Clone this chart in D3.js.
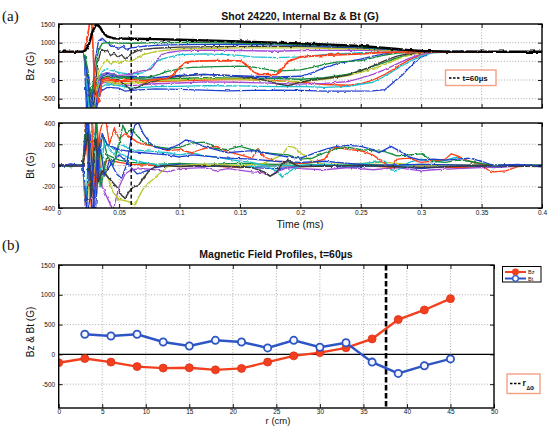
<!DOCTYPE html>
<html>
<head>
<meta charset="utf-8">
<script src="https://cdn.jsdelivr.net/npm/d3@7"></script>
<style>
  body { margin: 0; background: #fff; }
  svg text { font-family: "Liberation Sans", Arial, sans-serif; fill: #111; }
</style>
</head>
<body>
<svg id="chart" width="548" height="426"></svg>
<script>
// ---- panel (a): internal Bz traces, [time ms, gauss]
const bzEnvelope = [[0,760],[0.02,760],[0.022,790],[0.025,950],[0.028,1300],[0.031,1490],[0.034,1420],[0.037,1260],[0.04,1170],[0.045,1120],[0.05,1110],[0.06,1105],[0.08,1095],[0.1,1080],[0.15,1030],[0.2,980],[0.25,910],[0.27,860],[0.28,830],[0.29,800],[0.3,775],[0.32,760],[0.4,755]];
const bzGreenTop = [[0,750],[0.021,750],[0.024,300],[0.027,-400],[0.03,200],[0.033,800],[0.036,980],[0.04,1000],[0.05,990],[0.06,985],[0.08,1000],[0.1,1010],[0.12,1000],[0.15,990],[0.2,950],[0.24,900],[0.27,840],[0.3,780],[0.32,760],[0.4,750]];
const bzBlueTop = [[0,755],[0.021,755],[0.024,0],[0.027,-900],[0.03,500],[0.033,1050],[0.036,1120],[0.04,1000],[0.045,900],[0.05,850],[0.053,900],[0.056,820],[0.06,860],[0.07,900],[0.08,930],[0.1,950],[0.15,960],[0.2,930],[0.25,870],[0.28,810],[0.3,770],[0.4,750]];
const bzGrayTop = [[0,750],[0.021,750],[0.025,-200],[0.029,-700],[0.032,400],[0.035,800],[0.04,780],[0.043,650],[0.046,720],[0.049,600],[0.052,680],[0.055,560],[0.058,650],[0.06,700],[0.065,780],[0.07,820],[0.08,850],[0.1,880],[0.15,900],[0.2,900],[0.25,860],[0.28,810],[0.3,770],[0.4,750]];
const bzYellowTop = [[0,750],[0.021,750],[0.025,-300],[0.029,-800],[0.033,200],[0.037,450],[0.04,550],[0.043,420],[0.046,500],[0.05,450],[0.055,520],[0.06,500],[0.065,600],[0.07,680],[0.08,760],[0.09,800],[0.1,830],[0.15,860],[0.2,860],[0.25,830],[0.28,790],[0.3,760],[0.4,750]];
const bzPurpleTop = [[0,750],[0.021,750],[0.024,-100],[0.028,-900],[0.032,-100],[0.036,150],[0.04,200],[0.05,120],[0.06,150],[0.065,220],[0.07,250],[0.075,280],[0.078,350],[0.082,550],[0.085,680],[0.09,730],[0.1,780],[0.12,800],[0.15,790],[0.18,770],[0.2,790],[0.25,800],[0.28,780],[0.3,760],[0.4,750]];
const bzCyanTop = [[0,750],[0.021,750],[0.024,-400],[0.027,-1200],[0.031,-300],[0.035,200],[0.04,300],[0.05,200],[0.06,150],[0.07,200],[0.075,300],[0.08,480],[0.085,560],[0.09,600],[0.1,680],[0.12,700],[0.14,680],[0.15,660],[0.16,620],[0.18,600],[0.2,620],[0.22,680],[0.25,730],[0.28,750],[0.4,750]];
const bzRedMid = [[0,750],[0.021,760],[0.024,1200],[0.027,1800],[0.03,-200],[0.033,-600],[0.036,0],[0.04,50],[0.05,-30],[0.06,20],[0.07,-20],[0.08,10],[0.09,40],[0.095,150],[0.1,330],[0.105,470],[0.11,500],[0.13,520],[0.15,510],[0.155,420],[0.16,250],[0.165,150],[0.18,140],[0.185,300],[0.19,500],[0.2,620],[0.22,660],[0.25,700],[0.27,740],[0.29,750],[0.4,750]];
const bzGreenMid = [[0,750],[0.021,750],[0.025,-500],[0.029,-300],[0.033,100],[0.04,200],[0.05,100],[0.06,60],[0.07,50],[0.08,120],[0.09,230],[0.1,300],[0.11,340],[0.13,360],[0.15,370],[0.16,350],[0.17,300],[0.18,240],[0.2,270],[0.21,340],[0.22,420],[0.23,480],[0.25,520],[0.26,590],[0.27,670],[0.28,720],[0.3,750],[0.4,750]];
const bzBlueMid = [[0,750],[0.021,750],[0.024,-800],[0.028,-1500],[0.032,-400],[0.036,100],[0.04,150],[0.05,80],[0.06,100],[0.08,60],[0.1,120],[0.12,150],[0.14,120],[0.16,100],[0.18,80],[0.2,100],[0.21,200],[0.22,330],[0.23,430],[0.24,500],[0.25,560],[0.26,640],[0.27,700],[0.28,740],[0.3,750],[0.4,750]];
const bzGrayLow = [[0,750],[0.021,750],[0.025,-600],[0.029,-300],[0.033,0],[0.04,50],[0.05,0],[0.055,-150],[0.06,-250],[0.065,-200],[0.07,-120],[0.08,-20],[0.09,60],[0.1,100],[0.12,150],[0.14,120],[0.16,60],[0.17,0],[0.18,-100],[0.19,-150],[0.2,-60],[0.21,0],[0.22,40],[0.23,80],[0.24,140],[0.25,250],[0.26,380],[0.27,520],[0.28,640],[0.29,710],[0.3,750],[0.4,750]];
const bzYellowLow = [[0,750],[0.021,750],[0.025,-800],[0.03,-400],[0.035,0],[0.04,-50],[0.05,-100],[0.06,-80],[0.08,-20],[0.1,0],[0.12,30],[0.15,20],[0.18,-30],[0.2,-40],[0.22,20],[0.24,120],[0.26,300],[0.27,420],[0.28,560],[0.29,660],[0.3,730],[0.31,750],[0.4,750]];
const bzPurpleLow = [[0,750],[0.021,750],[0.025,-1000],[0.03,-500],[0.035,-100],[0.04,-50],[0.05,-100],[0.06,-150],[0.08,-100],[0.1,-80],[0.12,-50],[0.15,-60],[0.18,-90],[0.2,-110],[0.22,-90],[0.24,-40],[0.25,50],[0.26,150],[0.27,280],[0.28,430],[0.29,580],[0.3,690],[0.31,740],[0.32,750],[0.4,750]];
const bzCyanLow = [[0,750],[0.021,750],[0.025,-1200],[0.03,-700],[0.035,-200],[0.04,-100],[0.05,-150],[0.06,-220],[0.08,-180],[0.1,-170],[0.12,-150],[0.15,-160],[0.18,-180],[0.2,-170],[0.22,-200],[0.24,-170],[0.26,-60],[0.27,100],[0.28,300],[0.29,490],[0.3,640],[0.31,730],[0.32,750],[0.4,750]];
const bzRedLow = [[0,750],[0.021,750],[0.025,-900],[0.03,-300],[0.035,-50],[0.04,0],[0.05,-50],[0.06,-30],[0.07,-80],[0.08,-40],[0.1,-20],[0.12,0],[0.15,20],[0.18,-20],[0.2,-60],[0.22,-120],[0.24,-140],[0.25,-100],[0.26,0],[0.27,150],[0.28,350],[0.29,540],[0.3,680],[0.31,740],[0.32,750],[0.4,750]];
const bzGreenLow = [[0,750],[0.021,750],[0.025,-700],[0.03,-200],[0.035,50],[0.04,100],[0.05,50],[0.06,30],[0.08,20],[0.1,40],[0.12,60],[0.15,50],[0.18,40],[0.2,20],[0.22,60],[0.24,160],[0.25,250],[0.26,360],[0.27,470],[0.28,590],[0.29,680],[0.3,740],[0.31,750],[0.4,750]];
const bzBlueLow = [[0,750],[0.021,750],[0.024,-1500],[0.03,-900],[0.035,-300],[0.04,-200],[0.05,-220],[0.055,-300],[0.06,-280],[0.07,-260],[0.08,-240],[0.1,-250],[0.12,-270],[0.14,-290],[0.16,-280],[0.18,-270],[0.2,-280],[0.22,-300],[0.24,-300],[0.26,-290],[0.27,-260],[0.275,-120],[0.28,20],[0.285,150],[0.29,330],[0.295,480],[0.3,620],[0.305,660]];

// ---- panel (a): internal Bt traces
const btBlueTop = [[0,-10],[0.01,15],[0.02,-5],[0.023,-400],[0.026,300],[0.03,-500],[0.034,200],[0.038,-100],[0.042,50],[0.048,-80],[0.052,-120],[0.056,0],[0.06,250],[0.063,380],[0.066,400],[0.07,300],[0.075,220],[0.08,170],[0.09,150],[0.1,200],[0.105,240],[0.11,230],[0.12,180],[0.13,150],[0.14,120],[0.15,130],[0.16,140],[0.17,120],[0.18,100],[0.19,80],[0.2,70],[0.21,110],[0.22,150],[0.23,180],[0.24,190],[0.25,180],[0.26,150],[0.265,120],[0.27,150],[0.275,180],[0.28,150],[0.29,80],[0.3,50],[0.31,60],[0.32,50],[0.33,60],[0.34,70],[0.35,40],[0.36,0],[0.38,10],[0.4,-5]];
const btGreenTop = [[0,5],[0.01,-10],[0.02,10],[0.023,500],[0.027,-300],[0.031,400],[0.035,-200],[0.04,100],[0.045,0],[0.05,200],[0.053,380],[0.056,300],[0.06,350],[0.065,280],[0.07,220],[0.08,180],[0.09,160],[0.1,170],[0.105,190],[0.11,210],[0.12,220],[0.125,200],[0.13,160],[0.14,150],[0.15,180],[0.16,150],[0.17,120],[0.18,110],[0.19,100],[0.2,60],[0.21,70],[0.22,120],[0.23,160],[0.24,170],[0.25,150],[0.26,140],[0.27,130],[0.28,90],[0.29,100],[0.3,110],[0.31,40],[0.32,30],[0.33,50],[0.34,40],[0.35,20],[0.36,0],[0.4,0]];
const btRedTop = [[0,0],[0.01,10],[0.02,-10],[0.023,600],[0.027,500],[0.03,-300],[0.034,300],[0.038,500],[0.042,200],[0.046,350],[0.05,250],[0.055,300],[0.06,260],[0.065,220],[0.07,200],[0.08,180],[0.09,140],[0.1,150],[0.11,120],[0.12,160],[0.13,180],[0.14,130],[0.15,100],[0.16,70],[0.165,160],[0.17,80],[0.18,40],[0.19,30],[0.2,20],[0.21,30],[0.22,60],[0.225,140],[0.23,170],[0.24,150],[0.25,140],[0.26,100],[0.27,20],[0.275,-30],[0.28,60],[0.29,70],[0.3,30],[0.31,40],[0.32,60],[0.325,110],[0.33,90],[0.34,40],[0.35,10],[0.355,-40],[0.36,-60],[0.37,-50],[0.38,-10],[0.4,0]];
const btCyanTop = [[0,-5],[0.01,5],[0.02,0],[0.023,-300],[0.026,600],[0.03,200],[0.034,-200],[0.038,250],[0.042,150],[0.046,100],[0.05,200],[0.055,180],[0.06,150],[0.07,140],[0.08,130],[0.09,120],[0.1,100],[0.11,120],[0.12,90],[0.13,80],[0.14,60],[0.15,40],[0.16,30],[0.17,0],[0.18,-50],[0.185,-110],[0.19,-60],[0.2,0],[0.22,10],[0.24,0],[0.26,30],[0.27,40],[0.275,-40],[0.28,-50],[0.29,30],[0.3,60],[0.31,30],[0.32,50],[0.33,80],[0.34,40],[0.35,0],[0.4,0]];
const btYellow = [[0,0],[0.01,-10],[0.02,5],[0.023,-500],[0.027,300],[0.031,-300],[0.035,100],[0.04,-100],[0.045,-250],[0.05,-320],[0.055,-330],[0.06,-350],[0.063,-380],[0.066,-300],[0.07,-220],[0.075,-160],[0.08,-110],[0.085,-60],[0.09,-10],[0.1,0],[0.12,10],[0.15,0],[0.17,20],[0.185,100],[0.19,180],[0.195,170],[0.2,120],[0.21,40],[0.22,10],[0.25,20],[0.27,30],[0.3,0],[0.35,10],[0.4,0]];
const btGray = [[0,5],[0.01,-5],[0.02,0],[0.024,300],[0.027,-300],[0.029,100],[0.031,250],[0.033,-150],[0.036,-50],[0.04,-100],[0.044,-150],[0.048,-200],[0.052,-280],[0.055,-310],[0.058,-250],[0.062,-200],[0.066,-190],[0.07,-120],[0.075,-50],[0.08,-10],[0.09,0],[0.1,-10],[0.12,0],[0.14,-10],[0.16,-20],[0.17,-60],[0.175,-100],[0.18,-70],[0.185,20],[0.19,50],[0.195,10],[0.2,-10],[0.25,0],[0.3,-20],[0.35,0],[0.4,-10]];
const btPurple = [[0,0],[0.01,10],[0.02,-5],[0.023,-600],[0.028,-500],[0.032,200],[0.036,-200],[0.04,-300],[0.045,-420],[0.05,-200],[0.055,-80],[0.06,-40],[0.07,-30],[0.08,-40],[0.09,-60],[0.1,-30],[0.12,-20],[0.13,-50],[0.14,-30],[0.16,-60],[0.17,-70],[0.175,-100],[0.18,-60],[0.19,-20],[0.2,-30],[0.22,-40],[0.24,-20],[0.26,-40],[0.28,-20],[0.3,-50],[0.31,-40],[0.33,-30],[0.35,-20],[0.4,0]];
const btBlueLow = [[0,10],[0.01,-10],[0.02,0],[0.023,-500],[0.026,-300],[0.03,300],[0.034,-100],[0.04,-50],[0.045,50],[0.05,100],[0.055,50],[0.06,-20],[0.065,-80],[0.07,-60],[0.08,-20],[0.09,0],[0.1,10],[0.12,-10],[0.14,0],[0.16,-20],[0.18,-30],[0.2,-10],[0.22,0],[0.24,-20],[0.26,0],[0.28,-10],[0.3,-30],[0.32,-10],[0.34,0],[0.36,-20],[0.38,0],[0.4,-10]];
const btGreenLow = [[0,-5],[0.01,5],[0.02,0],[0.024,400],[0.028,200],[0.032,-200],[0.036,300],[0.04,100],[0.05,50],[0.06,30],[0.07,20],[0.08,10],[0.1,20],[0.12,10],[0.15,20],[0.18,10],[0.2,20],[0.22,0],[0.25,10],[0.28,0],[0.3,10],[0.35,0],[0.4,5]];
const btRedLow = [[0,5],[0.01,0],[0.02,-10],[0.023,200],[0.027,-400],[0.031,500],[0.035,-100],[0.04,50],[0.05,30],[0.06,10],[0.08,0],[0.1,-10],[0.12,0],[0.15,-20],[0.18,0],[0.2,-10],[0.25,0],[0.28,-20],[0.3,-10],[0.33,-20],[0.36,-10],[0.4,0]];
const btCyanLow = [[0,0],[0.01,-5],[0.02,5],[0.023,400],[0.027,-200],[0.031,100],[0.036,150],[0.04,200],[0.05,120],[0.06,60],[0.07,30],[0.08,10],[0.1,0],[0.15,-10],[0.2,0],[0.25,-10],[0.3,0],[0.35,-10],[0.4,0]];
const btBlueMid = [[0,0],[0.02,0],[0.024,500],[0.028,-500],[0.032,100],[0.036,300],[0.04,200],[0.05,150],[0.06,130],[0.07,120],[0.08,110],[0.09,100],[0.1,80],[0.11,100],[0.12,90],[0.14,70],[0.16,60],[0.18,40],[0.2,30],[0.22,40],[0.24,20],[0.26,0],[0.3,10],[0.35,0],[0.4,0]];

const timeTicks = [0, 0.05, 0.1, 0.15, 0.2, 0.25, 0.3, 0.35, 0.4];
const bzTicks = [-500, 0, 500, 1000, 1500];
const btTicks = [-400, -200, 0, 200, 400];
const snapshotTime = 0.06;

// ---- panel (b): profiles at t = 60 us
const radiusBz = [0, 3, 6, 9, 12, 15, 18, 21, 24, 27, 30, 33, 36, 39, 42, 45];
const profileBz = [-140, -70, -130, -205, -230, -225, -260, -235, -130, -25, 30, 110, 260, 585, 745, 935];
const radiusBt = [3, 6, 9, 12, 15, 18, 21, 24, 27, 30, 33, 36, 39, 42, 45];
const profileBt = [338, 308, 338, 208, 140, 236, 208, 108, 236, 120, 196, -130, -320, -190, -76];
const rTicks = [0, 5, 10, 15, 20, 25, 30, 35, 40, 45, 50];
const profileTicks = [-500, 0, 500, 1000, 1500];
const rDeltaPhi = 37.6;

const C = {
  blue: '#1f3fcc', green: '#138a3a', red: '#ff3d14', cyan: '#1cbfcc',
  purple: '#a24bd2', yellow: '#b9c62a', gray: '#3a3a3a',
};

const svg = d3.select('#chart');
const defs = svg.append('defs');

// slight jitter so the smooth traces read like digitised scope signals
const f = defs.append('filter').attr('id', 'noisy')
  .attr('x', '-2%').attr('y', '-5%').attr('width', '104%').attr('height', '110%');
f.append('feTurbulence').attr('type', 'fractalNoise').attr('baseFrequency', '0.3 0.25')
  .attr('numOctaves', 1).attr('seed', 7).attr('result', 'n');
f.append('feDisplacementMap').attr('in', 'SourceGraphic').attr('in2', 'n')
  .attr('scale', 3).attr('xChannelSelector', 'R').attr('yChannelSelector', 'G');

// scales
const xT = d3.scaleLinear().domain([0, 0.4]).range([58.7, 542]);
const yBz = d3.scaleLinear().domain([-750, 1500]).range([108, 24]);
const yBt = d3.scaleLinear().domain([-400, 400]).range([208, 123]);
const xR = d3.scaleLinear().domain([0, 50]).range([58.7, 494]);
const yP = d3.scaleLinear().domain([-900, 1500]).range([408, 265]);

function grid(x, y, xTicks, yTicks) {
  const [xa, xb] = x.range();
  const [yb, ya] = y.range();
  const g = svg.append('g').attr('stroke', '#8a8a8a').attr('stroke-width', 0.7)
    .attr('stroke-dasharray', '1,1.8');
  g.selectAll(null).data(xTicks.filter(t => x(t) > xa + 1 && x(t) < xb - 1)).join('line')
    .attr('x1', d => x(d)).attr('x2', d => x(d)).attr('y1', ya).attr('y2', yb);
  g.selectAll(null).data(yTicks.filter(t => y(t) < yb - 1 && y(t) > ya + 1)).join('line')
    .attr('y1', d => y(d)).attr('y2', d => y(d)).attr('x1', xa).attr('x2', xb);
}

function frame(x, y, xTicks, yTicks, xLabels, xPad) {
  const [xa, xb] = x.range();
  const [yb, ya] = y.range();
  const style = sel => {
    sel.select('.domain').remove();
    sel.selectAll('line').attr('stroke', '#000').attr('stroke-width', 0.9);
    sel.selectAll('text').attr('font-size', 6.5).attr('fill', '#222');
  };
  svg.append('g').attr('transform', `translate(0,${yb})`)
    .call(d3.axisBottom(x).tickValues(xTicks).tickSize(-4).tickPadding(xPad)
      .tickFormat(xLabels ? d => String(d) : ''))
    .call(style);
  svg.append('g').attr('transform', `translate(0,${ya})`)
    .call(d3.axisTop(x).tickValues(xTicks).tickSize(-4).tickFormat(''))
    .call(style);
  svg.append('g').attr('transform', `translate(${xa},0)`)
    .call(d3.axisLeft(y).tickValues(yTicks).tickSize(-4).tickPadding(3.5).tickFormat(d => String(d)))
    .call(style);
  svg.append('g').attr('transform', `translate(${xb},0)`)
    .call(d3.axisRight(y).tickValues(yTicks).tickSize(-4).tickFormat(''))
    .call(style);
  svg.append('rect').attr('x', xa).attr('y', ya).attr('width', xb - xa).attr('height', yb - ya)
    .attr('fill', 'none').attr('stroke', '#000').attr('stroke-width', 1.4);
}

function clipFor(id, x, y) {
  const [xa, xb] = x.range();
  const [yb, ya] = y.range();
  defs.append('clipPath').attr('id', id).append('rect')
    .attr('x', xa).attr('y', ya).attr('width', xb - xa).attr('height', yb - ya);
  return svg.append('g').attr('clip-path', `url(#${id})`);
}

function traces(x, y, id, list) {
  const line = d3.line().x(d => x(d[0])).y(d => y(d[1]));
  const g = clipFor(id, x, y).append('g').attr('filter', 'url(#noisy)');
  g.selectAll('path').data(list).join('path')
    .attr('d', d => line(d.data))
    .attr('fill', 'none')
    .attr('stroke', d => d.color)
    .attr('stroke-width', d => d.width || 1.3)
    .attr('stroke-linejoin', 'round');
}

function snapLine(y) {
  const [yb, ya] = y.range();
  svg.append('line').attr('x1', xT(snapshotTime)).attr('x2', xT(snapshotTime))
    .attr('y1', ya).attr('y2', yb).attr('stroke', '#000').attr('stroke-width', 1.4)
    .attr('stroke-dasharray', '4,2.5');
}

// ---------- (a) Bz
grid(xT, yBz, timeTicks, bzTicks);
traces(xT, yBz, 'clipBz', [
  { data: bzGreenLow, color: C.green }, { data: bzRedLow, color: C.red },
  { data: bzBlueLow, color: C.blue }, { data: bzCyanLow, color: C.cyan },
  { data: bzPurpleLow, color: C.purple }, { data: bzYellowLow, color: C.yellow },
  { data: bzGrayLow, color: C.gray }, { data: bzBlueMid, color: C.blue },
  { data: bzGreenMid, color: C.green }, { data: bzCyanTop, color: C.cyan },
  { data: bzPurpleTop, color: C.purple }, { data: bzYellowTop, color: C.yellow },
  { data: bzGrayTop, color: C.gray }, { data: bzBlueTop, color: C.blue },
  { data: bzGreenTop, color: C.green }, { data: bzRedMid, color: C.red, width: 1.7 },
  { data: bzEnvelope, color: '#000', width: 2.4 },
]);
snapLine(yBz);
frame(xT, yBz, timeTicks, bzTicks, false, 2);

// ---------- (a) Bt
grid(xT, yBt, timeTicks, btTicks);
traces(xT, yBt, 'clipBt', [
  { data: btGreenLow, color: C.green }, { data: btRedLow, color: C.red },
  { data: btCyanLow, color: C.cyan }, { data: btBlueLow, color: C.blue },
  { data: btPurple, color: C.purple }, { data: btYellow, color: C.yellow },
  { data: btCyanTop, color: C.cyan }, { data: btRedTop, color: C.red },
  { data: btGreenTop, color: C.green }, { data: btBlueMid, color: C.blue },
  { data: btGray, color: C.gray, width: 1.5 }, { data: btBlueTop, color: C.blue },
]);
snapLine(yBt);
frame(xT, yBt, timeTicks, btTicks, true, 2.5);

// ---------- (b) profiles
grid(xR, yP, rTicks, profileTicks);
const pg = clipFor('clipP', xR, yP);
pg.append('line').attr('x1', xR(0)).attr('x2', xR(50)).attr('y1', yP(0)).attr('y2', yP(0))
  .attr('stroke', '#000').attr('stroke-width', 1.3);
pg.append('line').attr('x1', xR(rDeltaPhi)).attr('x2', xR(rDeltaPhi))
  .attr('y1', yP(1500)).attr('y2', yP(-900))
  .attr('stroke', '#000').attr('stroke-width', 2.6).attr('stroke-dasharray', '5.5,2.5');

const bzPts = radiusBz.map((r, i) => [r, profileBz[i]]);
const btPts = radiusBt.map((r, i) => [r, profileBt[i]]);
const pLine = d3.line().x(d => xR(d[0])).y(d => yP(d[1]));
const red = '#f2401f', blue = '#2d55c4';

pg.append('path').attr('d', pLine(bzPts)).attr('fill', 'none').attr('stroke', red).attr('stroke-width', 2.4);
pg.append('path').attr('d', pLine(btPts)).attr('fill', 'none').attr('stroke', blue).attr('stroke-width', 2.4);
pg.selectAll('.mz').data(bzPts).join('circle')
  .attr('cx', d => xR(d[0])).attr('cy', d => yP(d[1])).attr('r', 4)
  .attr('fill', red).attr('stroke', '#e0301a').attr('stroke-width', 0.8);
pg.selectAll('.mt').data(btPts).join('circle')
  .attr('cx', d => xR(d[0])).attr('cy', d => yP(d[1])).attr('r', 3.6)
  .attr('fill', '#f4f6fb').attr('stroke', blue).attr('stroke-width', 1.8);

frame(xR, yP, rTicks, profileTicks, true, 1);

// ---------- text
const txt = (x, y, s, size, extra) => {
  const t = svg.append('text').attr('x', x).attr('y', y).attr('font-size', size).text(s);
  if (extra) extra(t);
  return t;
};
const serif = t => t.style('font-family', '"Liberation Serif", "DejaVu Serif", serif');
const bold = t => t.attr('font-weight', 'bold');
const mid = t => t.attr('text-anchor', 'middle');

txt(2, 21, '(a)', 15, serif);
txt(2, 250, '(b)', 15, serif);
txt(300, 19.5, 'Shot 24220, Internal Bz & Bt (G)', 10.5, t => { bold(t); mid(t); });
txt(276, 258, 'Magnetic Field Profiles, t=60\u00b5s', 10.5, t => { bold(t); mid(t); });
txt(300, 228, 'Time (ms)', 10.5, mid);
txt(278, 424, 'r (cm)', 9.5, mid);

const ylab = (x, y, s) => svg.append('text').attr('transform', `translate(${x},${y}) rotate(-90)`)
  .attr('text-anchor', 'middle').attr('dy', '0.35em').attr('font-size', 10).text(s);
ylab(30, 66, 'Bz (G)');
ylab(30, 165.5, 'Bt (G)');
ylab(30, 332, 'Bz & Bt (G)');

// legend t = 60 us
svg.append('rect').attr('x', 445.5).attr('y', 70).attr('width', 50.5).attr('height', 15.5)
  .attr('fill', '#fff').attr('stroke', '#f3a083').attr('stroke-width', 1.4);
svg.append('line').attr('x1', 449).attr('x2', 461).attr('y1', 78).attr('y2', 78)
  .attr('stroke', '#000').attr('stroke-width', 1.6).attr('stroke-dasharray', '2.5,1.5');
txt(462.5, 81, 't=60\u00b5s', 8, bold);

// legend Bz / Bt
svg.append('rect').attr('x', 502.5).attr('y', 266.5).attr('width', 38.5).attr('height', 15.5)
  .attr('fill', '#fff').attr('stroke', '#000').attr('stroke-width', 1);
[[272, red, true, 'Bz'], [278.5, blue, false, 'Bt']].forEach(([y, c, filled, s]) => {
  svg.append('line').attr('x1', 505).attr('x2', 526).attr('y1', y).attr('y2', y)
    .attr('stroke', c).attr('stroke-width', 2);
  svg.append('circle').attr('cx', 515.5).attr('cy', y).attr('r', 2.8)
    .attr('fill', filled ? c : '#fff').attr('stroke', c).attr('stroke-width', 1.3);
  txt(528, y + 2, s, 5.5);
});

// legend r_dPhi
svg.append('rect').attr('x', 507).attr('y', 374).attr('width', 33).attr('height', 19.5)
  .attr('fill', '#fff').attr('stroke', '#f3a083').attr('stroke-width', 1.4);
svg.append('line').attr('x1', 510).attr('x2', 521).attr('y1', 383.5).attr('y2', 383.5)
  .attr('stroke', '#000').attr('stroke-width', 1.6).attr('stroke-dasharray', '2.5,1.5');
txt(522.5, 386, 'r', 8.5, bold);
svg.append('text').attr('x', 526.5).attr('y', 389.5).attr('font-size', 5).attr('font-weight', 'bold')
  .text('\u0394\u03a6');
</script>
</body>
</html>
